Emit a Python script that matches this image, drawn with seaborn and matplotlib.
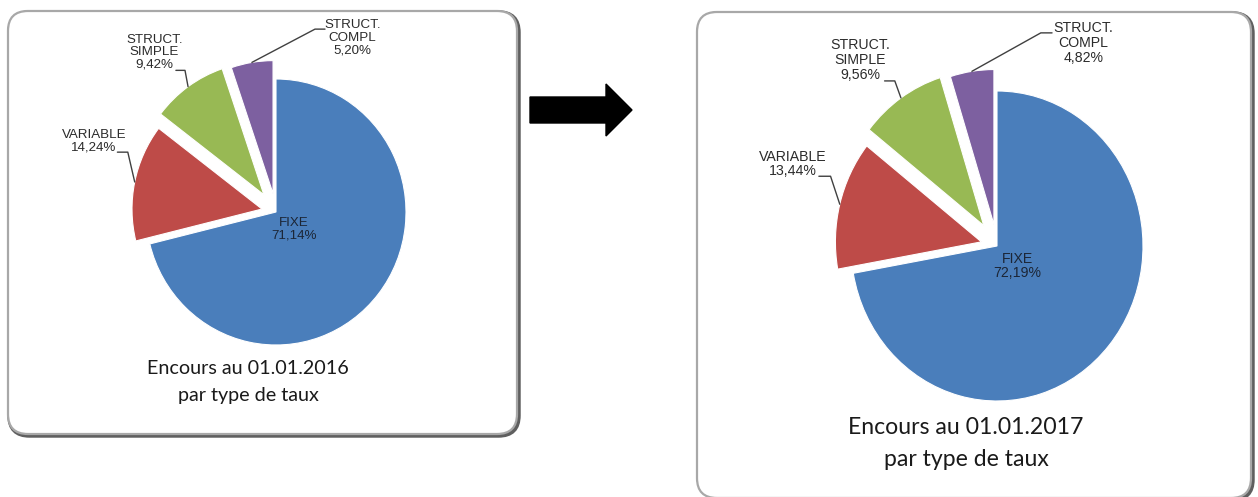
import numpy as np
import matplotlib
matplotlib.use("Agg")
import matplotlib.pyplot as plt
import seaborn as sns
from matplotlib.patches import FancyBboxPatch, FancyArrow

# Debt outstanding by rate type, two reference dates
categories = ["FIXE", "VARIABLE", "STRUCT.\nSIMPLE", "STRUCT.\nCOMPL"]
shares_2016 = [71.14, 14.24, 9.42, 5.20]
shares_2017 = [72.19, 13.44, 9.56, 4.82]
title_2016 = ["Encours au 01.01.2016", "par type de taux"]
title_2017 = ["Encours au 01.01.2017", "par type de taux"]

sns.set_theme(style="white")
palette = sns.color_palette(["#4A7EBB", "#BE4B48", "#98B954", "#7D60A0"])
LABEL_FONT = ["Liberation Sans Narrow", "Liberation Sans", "DejaVu Sans"]
TITLE_FONT = ["Lato", "DejaVu Sans"]

W, H = 1258, 497
fig = plt.figure(figsize=(W / 100, H / 100), dpi=100)
fig.patch.set_facecolor("white")

# Background layer in pixel units for frames, arrow and captions
bg = fig.add_axes([0, 0, 1, 1])
bg.set_xlim(0, W)
bg.set_ylim(H, 0)
bg.axis("off")


def frame(x0, y0, x1, y1):
    shadow = FancyBboxPatch((x0 + 1.5, y0 + 1.5), x1 - x0, y1 - y0,
                            boxstyle="round,pad=0,rounding_size=20",
                            facecolor="none", edgecolor="#5f5f5f", linewidth=3.2)
    body = FancyBboxPatch((x0, y0), x1 - x0, y1 - y0,
                          boxstyle="round,pad=0,rounding_size=20",
                          facecolor="white", edgecolor="#a8a8a8", linewidth=1.6)
    bg.add_patch(shadow)
    bg.add_patch(body)


frame(8, 11, 517, 434)
frame(697, 12, 1251, 498)

bg.add_patch(FancyArrow(530, 110, 102, 0, width=26, head_width=52, head_length=26,
                        length_includes_head=True, color="black"))

# Outer-label layout in pie radius units
label_xy = {1: (-1.40, 0.53), 2: (-0.935, 1.20), 3: (0.59, 1.31)}
elbow_xy = {1: ((-1.22, 0.45), (-1.14, 0.45)),
            2: ((-0.77, 1.065), (-0.70, 1.065)),
            3: ((0.377, 1.375), (0.30, 1.375))}
explode = [0.0, 0.11, 0.16, 0.14]


def fmt(v):
    return f"{v:.2f}".replace(".", ",") + "%"


def draw_pie(values, cx, cy, rx, ry, label_size):
    span = 1.7
    ax = fig.add_axes([(cx - span * rx) / W, (H - cy - span * ry) / H,
                       2 * span * rx / W, 2 * span * ry / H])
    wedges, _ = ax.pie(values, colors=palette, startangle=90, counterclock=False,
                       explode=explode,
                       wedgeprops=dict(edgecolor="white", linewidth=0.8))
    ax.set_aspect("auto")
    ax.set_xlim(-span, span)
    ax.set_ylim(-span, span)
    ax.axis("off")
    ax.patch.set_alpha(0)

    for i, (w, name, v) in enumerate(zip(wedges, categories, values)):
        text = f"{name}\n{fmt(v)}"
        if i == 0:
            ax.text(0.14, -0.13, text, ha="center", va="center", fontsize=label_size,
                    family=LABEL_FONT, color="#1c2636", linespacing=1.05)
            continue
        mid = np.deg2rad((w.theta1 + w.theta2) / 2)
        px = w.center[0] + w.r * np.cos(mid)
        py = w.center[1] + w.r * np.sin(mid)
        (ex0, ey0), (ex1, ey1) = elbow_xy[i]
        ax.plot([ex0, ex1, px], [ey0, ey1, py], color="#404040", lw=1.0)
        lx, ly = label_xy[i]
        ax.text(lx, ly, text, ha="center", va="center", fontsize=label_size,
                family=LABEL_FONT, color="#2b2b2b", linespacing=1.05)
    return ax


draw_pie(shares_2016, 276, 212, 130, 133, 9.6)
draw_pie(shares_2017, 997, 246, 146, 155, 10.2)

for (line1, line2), x, y1, y2, size in [(title_2016, 248, 368, 395, 14.2),
                                       (title_2017, 966, 427, 460, 16.6)]:
    bg.text(x, y1, line1, ha="center", va="center", fontsize=size,
            family=TITLE_FONT, color="#1a1a1a")
    bg.text(x, y2, line2, ha="center", va="center", fontsize=size,
            family=TITLE_FONT, color="#1a1a1a")

fig.savefig("out.png", dpi=100, facecolor="white")
